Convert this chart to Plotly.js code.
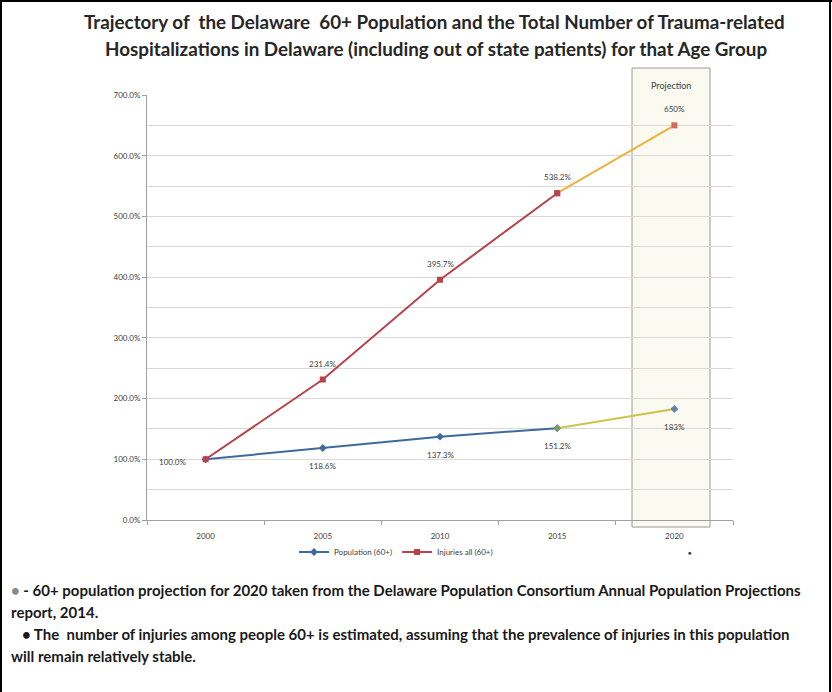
<!DOCTYPE html>
<html><head><meta charset="utf-8">
<script src="https://cdn.plot.ly/plotly-3.0.1.min.js"></script>
<style>body{margin:0;background:#fff}#c{width:832px;height:692px}</style>
</head><body><div id="c"></div>
<script>
var years = ['2000','2005','2010','2015','2020'];
var population = [100.0, 118.6, 137.3, 151.2, 183];
var injuries = [100.0, 231.4, 395.7, 538.2, 650];
var yTicks = [0,100,200,300,400,500,600,700];
var nActual = 4; // 2000-2015 observed, 2020 projected

var W=832,H=692,L=147,R=733,T=95,B=520;
function px(x){return (x-L)/(R-L);}
function py(y){return (B-y)/(B-T);}

var fnt = 'Lato, "Open Sans", sans-serif';
var lblFont = {family:fnt,size:8,color:'#404040'};

function fmt(v,i){ return i < nActual ? v.toFixed(1)+'%' : v.toFixed(0)+'%'; }

var traces = [
  {x:years.slice(0,nActual), y:population.slice(0,nActual), name:'Population (60+)', mode:'lines+markers',
   line:{color:'#3f6a9c',width:2}, marker:{symbol:'diamond',size:6,color:'#3f6a9c'}},
  {x:years.slice(0,nActual), y:injuries.slice(0,nActual), name:'Injuries all (60+)', mode:'lines+markers',
   line:{color:'#b8424a',width:2}, marker:{symbol:'square',size:6,color:'#b8424a'}},
  {x:years.slice(3), y:population.slice(3), mode:'lines+markers', showlegend:false,
   line:{color:'#c9c64a',width:2}, marker:{symbol:'diamond',size:6,color:['#7f9a6a','#5a7fb0']}},
  {x:years.slice(3), y:injuries.slice(3), mode:'lines+markers', showlegend:false,
   line:{color:'#efb23c',width:2}, marker:{symbol:'square',size:6,color:['#b6474a','#d46a5a']}}
];

var ann = [];
// category axis: annotation x given as the category's serial index
population.forEach(function(v,i){
  ann.push({xref:'x',yref:'y',x:i,y:v,showarrow:false,text:fmt(v,i),font:lblFont,
    xanchor:'center',yanchor:'middle',xshift:(i===0?-33:0),yshift:(i===0?-3:-18)});
});
injuries.forEach(function(v,i){
  if(i===0) return;
  ann.push({xref:'x',yref:'y',x:i,y:v,showarrow:false,text:fmt(v,i),font:lblFont,
    xanchor:'center',yanchor:'middle',yshift:16});
});

ann = ann.concat([
  {xref:'paper',yref:'paper',x:px(434),y:py(22),xanchor:'center',yanchor:'middle',showarrow:false,
   text:'<b>Trajectory of  the Delaware  60+ Population and the Total Number of Trauma-related</b>',
   font:{family:fnt,size:18.8,color:'#262626'}},
  {xref:'paper',yref:'paper',x:px(436),y:py(48),xanchor:'center',yanchor:'middle',showarrow:false,
   text:'<b>Hospitalizations in Delaware (including out of state patients) for that Age Group</b>',
   font:{family:fnt,size:18.8,color:'#262626'}},
  {xref:'paper',yref:'paper',x:px(671),y:py(86),xanchor:'center',yanchor:'middle',showarrow:false,
   text:'Projection', font:{family:fnt,size:9,color:'#404040'}},
  {xref:'paper',yref:'paper',x:px(690),y:py(552),xanchor:'center',yanchor:'middle',showarrow:false,
   text:'●', font:{family:fnt,size:6,color:'#404040'}},
  {xref:'paper',yref:'paper',x:px(9),y:py(590),xanchor:'left',yanchor:'middle',showarrow:false,
   text:'<b><span style="color:#888">•</span> - 60+ population projection for 2020 taken from the Delaware Population Consortium Annual Population Projections</b>',
   font:{family:fnt,size:15,color:'#1a1a1a'}},
  {xref:'paper',yref:'paper',x:px(9),y:py(612),xanchor:'left',yanchor:'middle',showarrow:false,
   text:'<b>report, 2014.</b>', font:{family:fnt,size:15,color:'#1a1a1a'}},
  {xref:'paper',yref:'paper',x:px(9),y:py(634),xanchor:'left',yanchor:'middle',showarrow:false,
   text:'<b>   • The  number of injuries among people 60+ is estimated, assuming that the prevalence of injuries in this population</b>',
   font:{family:fnt,size:15,color:'#1a1a1a'}},
  {xref:'paper',yref:'paper',x:px(9),y:py(656),xanchor:'left',yanchor:'middle',showarrow:false,
   text:'<b>will remain relatively stable.</b>', font:{family:fnt,size:15,color:'#1a1a1a'}}
]);

var layout = {
  width:W, height:H, margin:{l:L,r:W-R,t:T,b:H-B},
  paper_bgcolor:'#fff', plot_bgcolor:'rgba(0,0,0,0)',
  font:{family:fnt,color:'#404040'},
  showlegend:true,
  legend:{orientation:'h', x:px(396), xanchor:'center', y:py(552), yanchor:'middle', bgcolor:'rgba(0,0,0,0)',
    font:{family:fnt,size:8,color:'#404040'}, traceorder:'normal', itemwidth:30},
  xaxis:{type:'category', categoryorder:'array', categoryarray:years, range:[-0.5,4.5], showgrid:false, showline:true, linecolor:'#a0a0a0', linewidth:1,
    ticks:'outside', tickson:'boundaries', ticklen:4, tickcolor:'#a0a0a0', ticklabelstandoff:8,
    tickfont:{family:fnt,size:8,color:'#404040'}, fixedrange:true},
  yaxis:{range:[0,700], tickvals:yTicks, ticktext:yTicks.map(function(v){return v.toFixed(1)+'%';}),
    showline:true, linecolor:'#a0a0a0', linewidth:1, ticks:'outside', ticklen:4, tickcolor:'#a0a0a0',
    showgrid:true, gridcolor:'#d9d9d9', gridwidth:1, zeroline:false,
    minor:{dtick:50, showgrid:true, gridcolor:'#d9d9d9', ticks:''},
    tickfont:{family:fnt,size:8,color:'#404040'}, fixedrange:true},
  shapes:[
    {type:'rect', xref:'paper', yref:'paper', x0:px(632), x1:px(710), y0:py(527), y1:py(68),
     fillcolor:'#fafaf0', line:{color:'#9a9a9a',width:1}, layer:'below'},
    {type:'line', xref:'paper', yref:'paper', x0:px(1), x1:px(1), y0:py(0), y1:py(692), line:{color:'#000',width:2}},
    {type:'line', xref:'paper', yref:'paper', x0:px(0), x1:px(832), y0:py(1), y1:py(1), line:{color:'#000',width:2}},
    {type:'line', xref:'paper', yref:'paper', x0:px(830), x1:px(830), y0:py(0), y1:py(692), line:{color:'#000',width:2}}
  ],
  annotations: ann
};
Plotly.newPlot('c', traces, layout, {displayModeBar:false, staticPlot:true});
</script></body></html>
